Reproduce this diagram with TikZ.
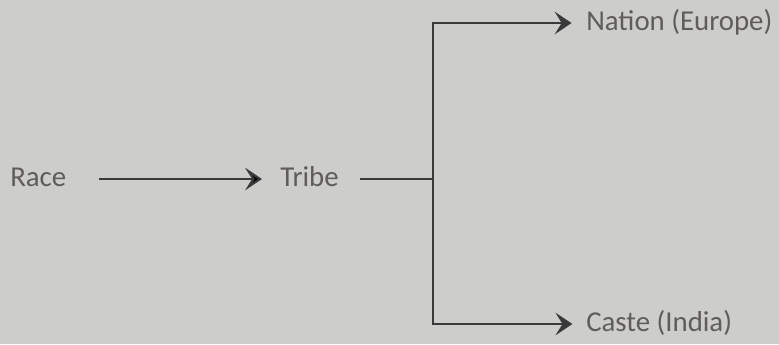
\documentclass[tikz,border=0pt]{standalone}
\usepackage{fontspec}
\setmainfont{Carlito}
\usetikzlibrary{arrows.meta,positioning}

\definecolor{paper}{RGB}{205,205,204}
\definecolor{ink}{RGB}{96,92,92}
\definecolor{wire}{RGB}{58,58,58}

\begin{document}
\begin{tikzpicture}[x=0.025cm, y=-0.025cm,
    >={Stealth[length=12pt, width=16pt, inset=5pt]},
    term/.style={inner sep=0pt, text=ink, font=\fontsize{20.5}{24}\selectfont,
                 text height=1em, text depth=0pt},
    link/.style={draw=wire, line width=1.5pt}]
    % Background
    \fill [paper] (0,0) rectangle (779,344);
    \useasboundingbox (0,0) rectangle (779,344);

    % Nodes {race, tribe, nation, caste}
    \node [term, anchor=west]   (race)    at (10,179)  {Race};
    \node [term, anchor=west]   (tribe)   at (280,179) {Tribe};
    \node [term, anchor=west]   (nation)  at (586,23)  {Nation (Europe)};
    \node [term, anchor=west]   (caste)   at (586,324) {Caste (India)};
    \coordinate                 (fork)    at (433,179);

    % Paths
    \path [link, ->, shorten <=0.82cm, shorten >=0.45cm]  (race) edge (tribe);
    \path [link, shorten <=0.52cm]  (tribe.east) edge (fork);
    \draw [link, ->, shorten >=0.36cm]  (fork) |- (nation.west);
    \draw [link, ->, shorten >=0.34cm]  (fork) |- (caste.west);
\end{tikzpicture}
\end{document}
